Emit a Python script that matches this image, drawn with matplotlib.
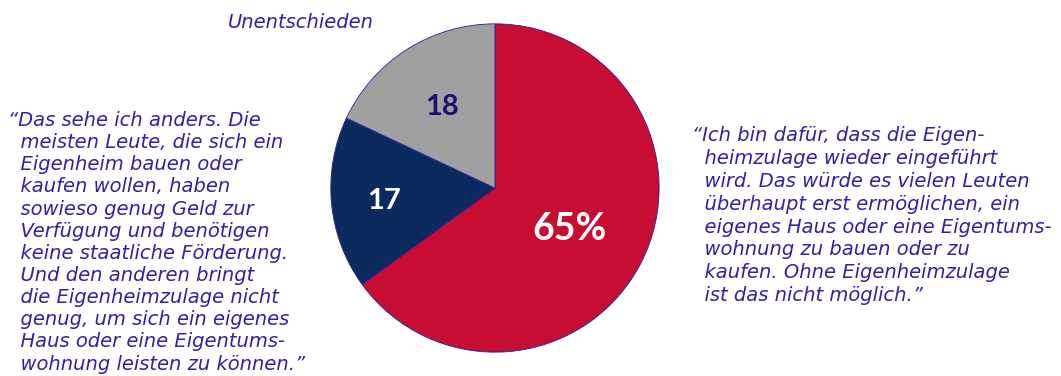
import numpy as np
import matplotlib.pyplot as plt

shares = [65, 17, 18]
labels = ['65%', '17', '18']
colors = ['#C80D32', '#0B2A5E', '#A0A0A0']
label_colors = ['white', 'white', '#1E1070']
label_radius = [0.51, 0.68, 0.6]
text_col = '#2D22A8'

left_quote = ("\u201cDas sehe ich anders. Die\n"
              "  meisten Leute, die sich ein\n"
              "  Eigenheim bauen oder\n"
              "  kaufen wollen, haben\n"
              "  sowieso genug Geld zur\n"
              "  Verfügung und benötigen\n"
              "  keine staatliche Förderung.\n"
              "  Und den anderen bringt\n"
              "  die Eigenheimzulage nicht\n"
              "  genug, um sich ein eigenes\n"
              "  Haus oder eine Eigentums-\n"
              "  wohnung leisten zu können.\u201d")
right_quote = ("\u201cIch bin dafür, dass die Eigen-\n"
               "  heimzulage wieder eingeführt\n"
               "  wird. Das würde es vielen Leuten\n"
               "  überhaupt erst ermöglichen, ein\n"
               "  eigenes Haus oder eine Eigentums-\n"
               "  wohnung zu bauen oder zu\n"
               "  kaufen. Ohne Eigenheimzulage\n"
               "  ist das nicht möglich.\u201d")

fig = plt.figure(figsize=(10.61, 3.76), dpi=100)
ax = fig.add_axes([0.311, 0.061, 0.311, 0.878])
wedges, texts = ax.pie(shares, colors=colors, startangle=90, counterclock=False,
                       wedgeprops={'edgecolor': '#2A1FA0', 'linewidth': 0.6})
ax.set_xlim(-1.005, 1.005)
ax.set_ylim(-1.005, 1.005)
ax.set_aspect('equal')

for w, lab, lc, r in zip(wedges, labels, label_colors, label_radius):
    ang = np.deg2rad((w.theta1 + w.theta2) / 2)
    fs = 27 if lab.endswith('%') else 21
    ax.text(r * np.cos(ang), r * np.sin(ang), lab, ha='center', va='center_baseline',
            color=lc, fontsize=fs, fontweight='bold', family='Lato')

fig.text(0.215, 0.94, 'Unentschieden', color=text_col, fontsize=14,
         style='italic', family='DejaVu Sans', ha='left', va='center')
fig.text(0.008, 0.705, left_quote, color=text_col, fontsize=14, style='italic',
         family='DejaVu Sans', ha='left', va='top', linespacing=1.21)
fig.text(0.652, 0.665, right_quote, color=text_col, fontsize=14, style='italic',
         family='DejaVu Sans', ha='left', va='top', linespacing=1.26)

fig.savefig('out.png', dpi=100)
